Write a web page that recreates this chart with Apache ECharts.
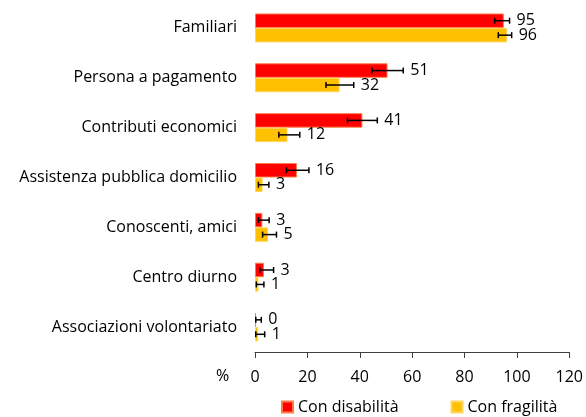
<!DOCTYPE html>
<html><head><meta charset="utf-8">
<script src="https://cdn.jsdelivr.net/npm/echarts@6/dist/echarts.min.js"></script>
<style>html,body{margin:0;padding:0;background:#fff}#c{width:586px;height:417px}</style>
</head><body><div id="c"></div>
<script>
const categories = ['Familiari','Persona a pagamento','Contributi economici','Assistenza pubblica domicilio','Conoscenti, amici','Centro diurno','Associazioni volontariato'];
const disabValues = [95, 50.6, 41, 16, 2.8, 3.4, 0.4];
const disabLow    = [91.5, 44.7, 35.3, 12, 1.3, 1.8, 0.3];
const disabHigh   = [97.2, 56.6, 46.7, 20.6, 5.4, 7.1, 2.4];
const fragValues  = [96.3, 32.3, 12.4, 2.9, 5, 1.3, 1.2];
const fragLow     = [92.9, 27.1, 9.1, 1.3, 2.9, 0.5, 0.3];
const fragHigh    = [98, 37.7, 17.1, 5.3, 8.2, 3.4, 3.7];
const xTicks = [0, 20, 40, 60, 80, 100, 120];
const seriesNames = ['Con disabilità', 'Con fragilità'];

const FONT = 'Open Sans';
const FS = 16;
const GAP = 0.42;
const chart = echarts.init(document.getElementById('c'));

function errSeries(idx, low, high, vals) {
  return {
    type: 'custom',
    silent: true,
    z: 10,
    data: categories.map((c, i) => [low[i], high[i], i, Math.round(vals[i])]),
    encode: { x: [0, 1], y: 2 },
    renderItem: function (params, api) {
      const lo = api.coord([api.value(0), api.value(2)]);
      const hi = api.coord([api.value(1), api.value(2)]);
      const band = api.size([0, 1])[1];
      const bw = band * (1 - GAP) / 2;
      const y = lo[1] + (idx === 0 ? -bw / 2 : bw / 2);
      const cap = 3;
      const st = { stroke: '#000', lineWidth: 1.5 };
      return {
        type: 'group',
        children: [
          { type: 'line', shape: { x1: lo[0], y1: y, x2: hi[0], y2: y }, style: st },
          { type: 'line', shape: { x1: lo[0], y1: y - cap, x2: lo[0], y2: y + cap }, style: st },
          { type: 'line', shape: { x1: hi[0], y1: y - cap, x2: hi[0], y2: y + cap }, style: st },
          { type: 'text', x: hi[0] + 7, y: y, style: { text: String(api.value(3)), fill: '#000', font: FS + 'px ' + FONT, textAlign: 'left', textVerticalAlign: 'middle' } }
        ]
      };
    }
  };
}

chart.setOption({
  animation: false,
  textStyle: { fontFamily: FONT },
  grid: { left: 255, right: 15, top: 3, height: 349, containLabel: false },
  xAxis: {
    type: 'value', min: 0, max: 120, interval: 20,
    axisLine: { show: true, lineStyle: { color: '#404040', width: 1 } },
    axisTick: { show: true, length: 6, lineStyle: { color: '#404040' } },
    splitLine: { show: false },
    axisLabel: { color: '#000', fontSize: FS, fontFamily: FONT, margin: 17,
      formatter: v => xTicks.includes(v) ? String(v) : '' }
  },
  yAxis: {
    type: 'category', data: categories, inverse: true,
    axisLine: { show: false }, axisTick: { show: false },
    axisLabel: { color: '#000', fontSize: FS, fontFamily: FONT, margin: 18 }
  },
  legend: {
    top: 399, left: 281, padding: 0, itemWidth: 11, itemHeight: 11, itemGap: 52,
    icon: 'rect',
    textStyle: { fontSize: FS, color: '#000', fontFamily: FONT },
    data: seriesNames
  },
  graphic: [{ type: 'text', left: 216, top: 368, style: { text: '%', fill: '#000', font: FS + 'px ' + FONT } }],
  series: [
    { name: seriesNames[0], type: 'bar', data: disabValues, barGap: 0, barCategoryGap: (GAP * 100) + '%',
      itemStyle: { color: '#ff0000', borderColor: '#ff7a45', borderWidth: 1 } },
    { name: seriesNames[1], type: 'bar', data: fragValues, barGap: 0, barCategoryGap: (GAP * 100) + '%',
      itemStyle: { color: '#ffc000', borderColor: '#ffd75e', borderWidth: 1 } },
    errSeries(0, disabLow, disabHigh, disabValues),
    errSeries(1, fragLow, fragHigh, fragValues)
  ]
});
</script></body></html>
